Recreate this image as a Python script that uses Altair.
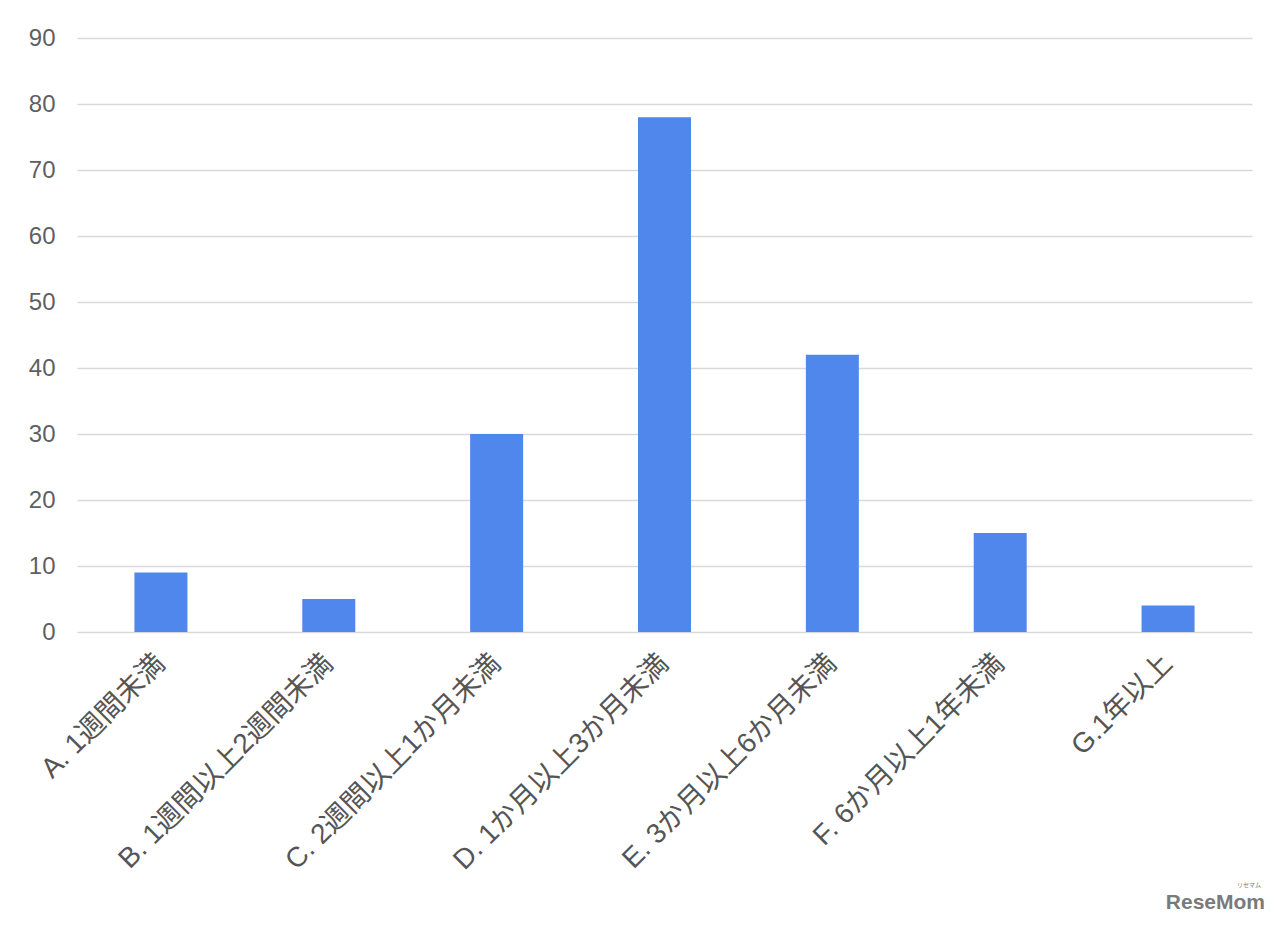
import altair as alt
import pandas as pd

categories = [
    "A. 1週間未満",
    "B. 1週間以上2週間未満",
    "C. 2週間以上1か月未満",
    "D. 1か月以上3か月未満",
    "E. 3か月以上6か月未満",
    "F. 6か月以上1年未満",
    "G.1年以上",
]
values = [9, 5, 30, 78, 42, 15, 4]
y_ticks = [0, 10, 20, 30, 40, 50, 60, 70, 80, 90]

df = pd.DataFrame({"category": categories, "value": values})

FONT = "Liberation Sans, Noto Sans CJK JP, sans-serif"

bars = alt.Chart(df).mark_bar(color="#5087ec", size=53).encode(
    x=alt.X(
        "category:N",
        sort=categories,
        title=None,
        scale=alt.Scale(paddingInner=0, paddingOuter=0),
        axis=alt.Axis(
            labelAngle=-45,
            labelAlign="right",
            labelBaseline="middle",
            labelFontSize=28,
            labelFont=FONT,
            labelColor="#555555",
            labelPadding=27,
            ticks=False,
            domain=False,
            grid=False,
            labelLimit=0,
        ),
    ),
    y=alt.Y(
        "value:Q",
        title=None,
        scale=alt.Scale(domain=[0, 90], nice=False),
        axis=alt.Axis(
            values=y_ticks,
            labelFontSize=24,
            labelFont=FONT,
            labelColor="#5f5f5f",
            labelPadding=22,
            ticks=False,
            domain=False,
            gridColor="#d9d9d9",
            gridWidth=1.5,
        ),
    ),
)

mark_df = pd.DataFrame({"t": ["ReseMom"]})
watermark = alt.Chart(mark_df).mark_text(
    align="right",
    baseline="alphabetic",
    font="Liberation Sans Narrow, Liberation Sans, sans-serif",
    fontWeight="bold",
    fontSize=21,
    color="#7a7a7a",
).encode(x=alt.value(1188), y=alt.value(871), text="t:N")

ruby_df = pd.DataFrame({"t": ["リセマム"]})
ruby = alt.Chart(ruby_df).mark_text(
    align="right",
    baseline="alphabetic",
    font="Noto Sans CJK JP",
    fontSize=6,
    color="#7a7a7a",
).encode(x=alt.value(1184), y=alt.value(849), text="t:N")

chart = (
    alt.layer(bars, watermark, ruby)
    .properties(
        width=1175,
        height=594,
        autosize=alt.AutoSizeParams(type="none"),
        padding={"left": 69, "top": 30, "right": 20, "bottom": 280},
        background="#ffffff",
    )
    .configure_view(stroke=None)
)

chart.save("out.html", embed_options={"renderer": "svg", "actions": False})
